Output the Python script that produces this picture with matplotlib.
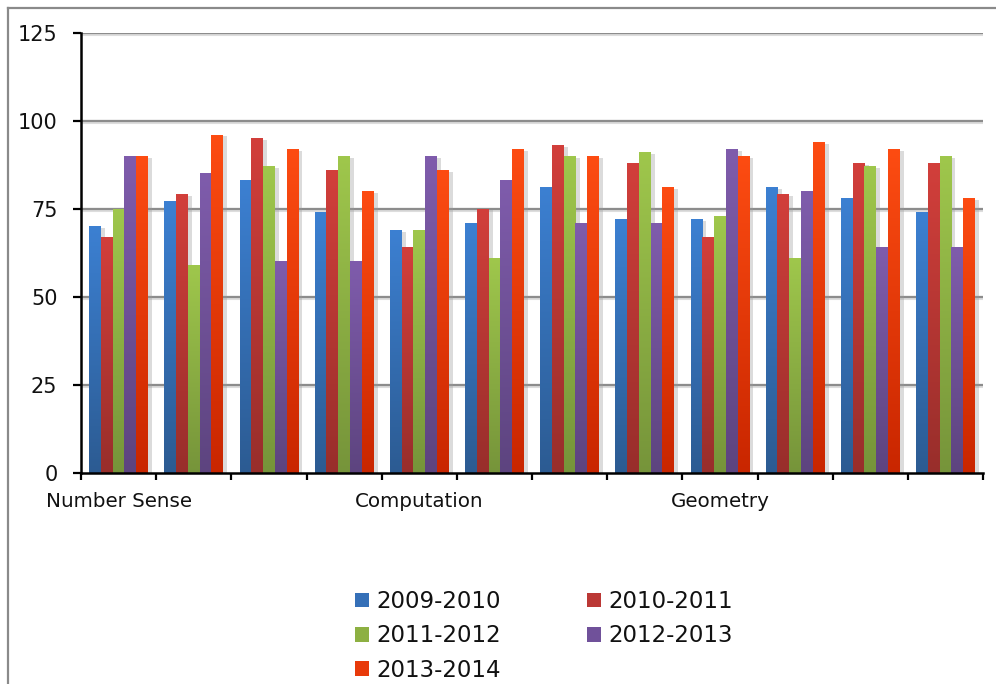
import numpy as np
import matplotlib
matplotlib.use("Agg")
import matplotlib.pyplot as plt
from matplotlib.colors import LinearSegmentedColormap
from matplotlib.patches import Patch
from matplotlib.lines import Line2D
import matplotlib.patheffects as pe

# Category labels (only every fourth one is shown on the axis)
categories = ["Number Sense", "", "", "", "Computation", "", "", "",
              "Geometry", "", "", ""]

series_names = ["2009-2010", "2010-2011", "2011-2012", "2012-2013", "2013-2014"]

s2009_2010 = [70, 77, 83, 74, 69, 71, 81, 72, 72, 81, 78, 74]
s2010_2011 = [67, 79, 95, 86, 64, 75, 93, 88, 67, 79, 88, 88]
s2011_2012 = [75, 59, 87, 90, 69, 61, 90, 91, 73, 61, 87, 90]
s2012_2013 = [90, 85, 60, 60, 90, 83, 71, 71, 92, 80, 64, 64]
s2013_2014 = [90, 96, 92, 80, 86, 92, 90, 81, 90, 94, 92, 78]

series_values = [s2009_2010, s2010_2011, s2011_2012, s2012_2013, s2013_2014]

y_ticks = [0, 25, 50, 75, 100, 125]

# (top colour, bottom colour) for each series' vertical gradient
gradients = [
    ("#3c80d2", "#2c5b92"),
    ("#d23f3b", "#982e2b"),
    ("#9fc74c", "#76943a"),
    ("#7f5cac", "#5d447f"),
    ("#fd4c12", "#c92600"),
]
legend_colors = ["#3570b8", "#bb3835", "#8db042", "#70519a", "#e83a0a"]

fig = plt.figure(figsize=(9.96, 6.84), dpi=100)
W, H = 996, 684
ax = fig.add_axes([81 / W, 1 - 473 / H, (983 - 81) / W, 440 / H])

n_groups = len(categories)
n_series = len(series_values)
x = np.arange(n_groups)
bar_w = 0.78 / n_series

for i, (vals, (top, bot)) in enumerate(zip(series_values, gradients)):
    offs = (i - (n_series - 1) / 2) * bar_w
    bars = ax.bar(x + offs, vals, width=bar_w, color=bot, zorder=2,
                  linewidth=0)
    cmap = LinearSegmentedColormap.from_list(f"g{i}", [bot, top])
    grad = np.linspace(0, 1, 256).reshape(-1, 1)
    for b in bars:
        b.set_path_effects([pe.SimplePatchShadow(offset=(3, -1),
                                                 shadow_rgbFace="#9a9a9a",
                                                 alpha=0.35),
                            pe.Normal()])
        x0, y0 = b.get_x(), b.get_y()
        w, h = b.get_width(), b.get_height()
        ax.imshow(grad, extent=[x0, x0 + w, y0, y0 + h], origin="lower",
                  cmap=cmap, aspect="auto", zorder=3, interpolation="bilinear")

ax.set_xlim(-0.5, n_groups - 0.5)
ax.set_ylim(0, 125)

# Gridlines with a faint shadow underneath
for yv in y_ticks[1:]:
    ax.axhline(yv, color="#d0d0d0", lw=1.5, zorder=1,
               path_effects=[pe.Stroke(offset=(0, -1.5), linewidth=1.5,
                                       foreground="#dddddd"), pe.Normal()])
    ax.axhline(yv, color="#8c8c8c", lw=1.6, zorder=1)

ax.set_yticks(y_ticks)
ax.set_yticklabels([str(v) for v in y_ticks])
ax.set_xticks(np.arange(-0.5, n_groups, 1.0))
ax.set_xticklabels([])
ax.set_xticks(x, minor=True)
ax.set_xticklabels(categories, minor=True)

ax.tick_params(axis="y", which="major", direction="out", length=6, width=1.6,
               color="black", labelsize=15, pad=11, labelcolor="#111111")
ax.tick_params(axis="x", which="major", direction="out", length=5, width=1.6,
               color="black")
ax.tick_params(axis="x", which="minor", length=0, labelsize=14.3, pad=14,
               labelcolor="#111111")

for side in ("top", "right"):
    ax.spines[side].set_visible(False)
for side in ("left", "bottom"):
    ax.spines[side].set_linewidth(1.8)
    ax.spines[side].set_color("black")
    ax.spines[side].set_zorder(5)

# Legend, entries laid out row by row in two columns
handles = [Patch(facecolor=c, edgecolor="none") for c in legend_colors]
order = [0, 2, 4, 1, 3]
leg = fig.legend([handles[k] for k in order], [series_names[k] for k in order],
                 loc="upper left", bbox_to_anchor=(355 / W, 1 - 590 / H),
                 ncol=2, frameon=False, fontsize=16.5, handlelength=0.62,
                 handleheight=0.62, handletextpad=0.32, columnspacing=3.75,
                 labelspacing=0.5, borderpad=0, borderaxespad=0)
for t in leg.get_texts():
    t.set_color("#111111")

# Outer chart border (top and left edges)
fig.add_artist(Line2D([8 / W, 1], [1 - 8 / H, 1 - 8 / H], color="#8a8a8a",
                      lw=1.6, transform=fig.transFigure))
fig.add_artist(Line2D([8 / W, 8 / W], [0, 1 - 8 / H], color="#8a8a8a",
                      lw=1.6, transform=fig.transFigure))

fig.savefig("out.png", dpi=100, facecolor="white")
